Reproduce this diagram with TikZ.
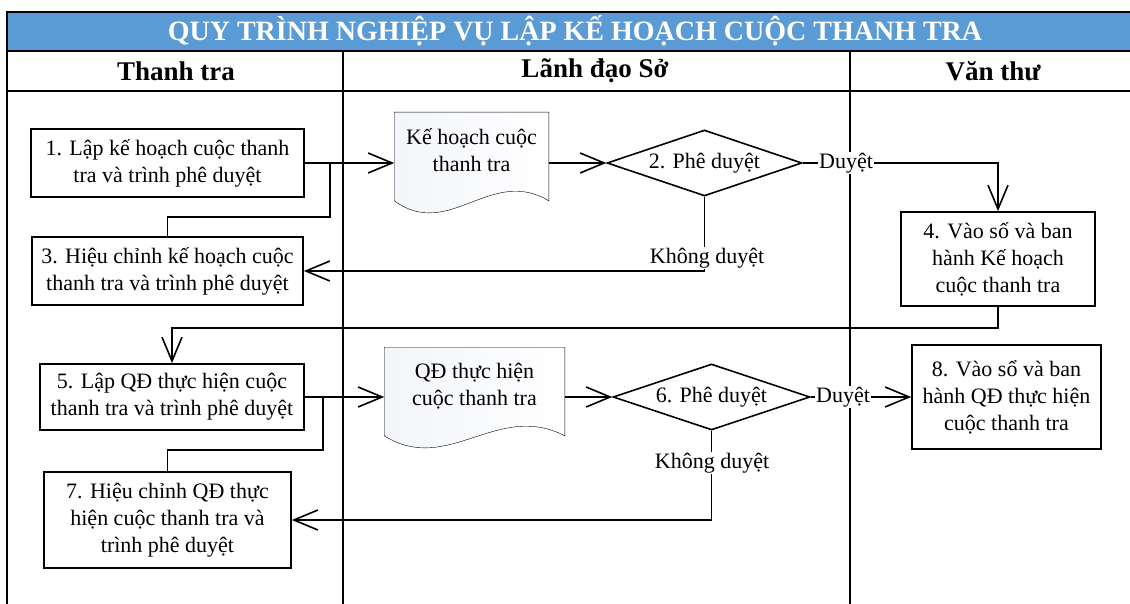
\documentclass[tikz,border=0pt]{standalone}
\usepackage{fontspec}
\setmainfont{Liberation Serif}
\usetikzlibrary{arrows.meta,shapes.geometric,calc,backgrounds}
\definecolor{titleblue}{RGB}{91,155,213}
\definecolor{docshade}{RGB}{243,245,250}
\begin{document}
\begin{tikzpicture}[x=1pt,y=-1pt,line width=1.6pt,
  txt/.style={font=\fontsize{22}{27}\selectfont},
  box/.style={txt,draw,fill=white,align=center,inner sep=0pt},
  docbox/.style={txt,align=center,inner sep=0pt},
  docshape/.style={draw,left color=docshade,right color=white},
  decision/.style={txt,draw,fill=white,diamond,aspect=3,inner sep=0pt},
  lbl/.style={txt,fill=white,inner sep=1pt},
  hdr/.style={font=\fontsize{27}{30}\selectfont\bfseries},
  arr/.style={-{Straight Barb[length=24pt,width=20pt]}},
  frame/.style={line width=2pt}]
\useasboundingbox (0,0) rectangle (1130,604);
% frame
\fill[titleblue] (7,12) rectangle (1130,51);
\draw[frame] (1130,12) -- (7,12) -- (7,604);
\draw[frame] (7,51) -- (1130,51);
\draw[frame] (7,91) -- (1130,91);
\draw[frame] (343,51) -- (343,604);
\draw[frame] (850,51) -- (850,604);
\node[font=\fontsize{28}{30}\selectfont\bfseries,text=white] (title) at (575,31) {QUY TRÌNH NGHIỆP VỤ LẬP KẾ HOẠCH CUỘC THANH TRA};
\node[hdr] (h1) at (176,71) {Thanh tra};
\node[hdr] (h2) at (595,71) {Lãnh đạo Sở};
\node[hdr] (h3) at (993,71) {Văn thư};
% boxes
\node[box,minimum width=273,minimum height=68] (b1) at (167.5,163) {1. Lập kế hoạch cuộc thanh\\tra và trình phê duyệt};
\node[box,minimum width=271,minimum height=68] (b3) at (167.5,271) {3. Hiệu chỉnh kế hoạch cuộc\\thanh tra và trình phê duyệt};
\node[box,minimum width=194,minimum height=94] (b4) at (998,259) {4. Vào số và ban\\hành Kế hoạch\\cuộc thanh tra};
\node[box,minimum width=264,minimum height=66] (b5) at (172,397) {5. Lập QĐ thực hiện cuộc\\thanh tra và trình phê duyệt};
\node[box,minimum width=247,minimum height=96] (b7) at (167.5,520) {7. Hiệu chỉnh QĐ thực\\hiện cuộc thanh tra và\\trình phê duyệt};
\node[box,minimum width=189,minimum height=104] (b8) at (1006.5,397) {8. Vào sổ và ban\\hành QĐ thực hiện\\cuộc thanh tra};
% documents
\node[docbox,minimum width=153,minimum height=74] (d1) at (471.5,150) {Kế hoạch cuộc\\thanh tra};
\node[docbox,minimum width=179,minimum height=77] (d2) at (474.5,386.5) {QĐ thực hiện\\cuộc thanh tra};
\begin{scope}[on background layer]
\draw[docshape] (d1.north west) -- (d1.north east) -- ($(d1.south east)+(0,13)$)
  .. controls +(-58,-35) and +(55,40) .. ($(d1.south west)+(0,13)$) -- cycle;
\draw[docshape] (d2.north west) -- (d2.north east) -- ($(d2.south east)+(0,10)$)
  .. controls +(-68,-35) and +(64,40) .. ($(d2.south west)+(0,10)$) -- cycle;
\end{scope}
% decisions
\node[decision,minimum width=195,minimum height=66] (dia2) at (704.5,163) {2. Phê duyệt};
\node[decision,minimum width=197,minimum height=66] (dia6) at (711.5,397) {6. Phê duyệt};
% junctions
\coordinate (j1) at (330,163);
\coordinate (k1) at (330,217);
\coordinate (c4) at (998,328);
\coordinate (j2) at (323,397);
\coordinate (k2) at (323,450);
% connectors
\draw[arr] (b1.east) -- (b1.east -| d1.west);
\draw (b3.north) |- (k1) -- (j1);
\draw[arr] (dia2.west -| d1.east) -- (dia2.west);
\draw[arr] (dia2.east) -| (b4.north);
\draw[arr] (dia2.south) |- (b3.east);
\draw[arr] (b4.south) -- (c4) -| (b5.north);
\draw[arr] (b5.east) -- (b5.east -| d2.west);
\draw (b7.north) |- (k2) -- (j2);
\draw[arr] (dia6.west -| d2.east) -- (dia6.west);
\draw[arr] (dia6.east) -- (b8.west);
\draw[arr] (dia6.south) |- (b7.east);
% labels
\node[lbl] (duy1) at (846,163) {Duyệt};
\node[lbl] (kd1) at (707,258) {Không duyệt};
\node[lbl] (duy2) at (843,397) {Duyệt};
\node[lbl] (kd2) at (712,463) {Không duyệt};
\end{tikzpicture}
\end{document}
